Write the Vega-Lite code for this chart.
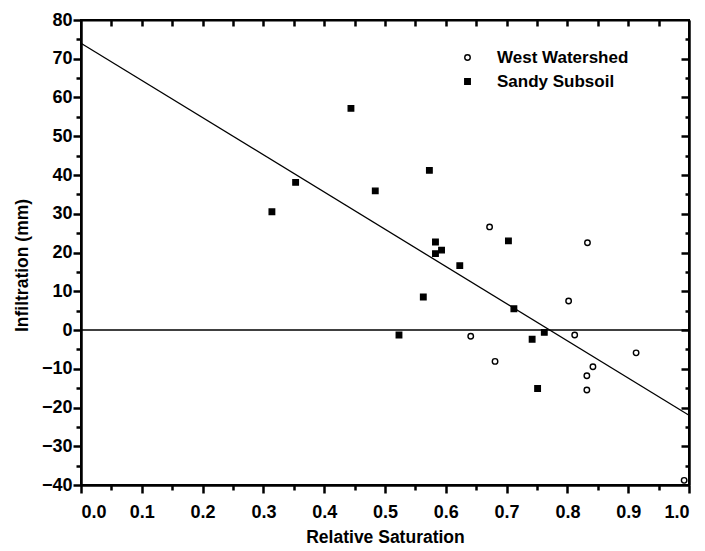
{
  "$schema": "https://vega.github.io/schema/vega-lite/v6.json",
  "autosize": {"type": "none"},
  "width": 608,
  "height": 465,
  "padding": {"left": 81, "top": 20, "right": 16, "bottom": 66},
  "background": "white",
  "config": {
    "view": {"stroke": "black", "strokeWidth": 2},
    "axis": {"grid": false, "labelFont": "Liberation Sans", "labelFontSize": 18}
  },
  "datasets": {
    "pts": [
      {"series": "Sandy Subsoil", "sat": 0.314, "inf": 30.5},
      {"series": "Sandy Subsoil", "sat": 0.353, "inf": 38.1},
      {"series": "Sandy Subsoil", "sat": 0.444, "inf": 57.2},
      {"series": "Sandy Subsoil", "sat": 0.484, "inf": 35.9},
      {"series": "Sandy Subsoil", "sat": 0.573, "inf": 41.2},
      {"series": "Sandy Subsoil", "sat": 0.583, "inf": 22.7},
      {"series": "Sandy Subsoil", "sat": 0.593, "inf": 20.6},
      {"series": "Sandy Subsoil", "sat": 0.583, "inf": 19.7},
      {"series": "Sandy Subsoil", "sat": 0.623, "inf": 16.6},
      {"series": "Sandy Subsoil", "sat": 0.563, "inf": 8.5},
      {"series": "Sandy Subsoil", "sat": 0.703, "inf": 23.0},
      {"series": "Sandy Subsoil", "sat": 0.712, "inf": 5.5},
      {"series": "Sandy Subsoil", "sat": 0.523, "inf": -1.3},
      {"series": "Sandy Subsoil", "sat": 0.742, "inf": -2.4},
      {"series": "Sandy Subsoil", "sat": 0.762, "inf": -0.6},
      {"series": "Sandy Subsoil", "sat": 0.751, "inf": -15.1},
      {"series": "West Watershed", "sat": 0.672, "inf": 26.6},
      {"series": "West Watershed", "sat": 0.641, "inf": -1.6},
      {"series": "West Watershed", "sat": 0.681, "inf": -8.1},
      {"series": "West Watershed", "sat": 0.802, "inf": 7.5},
      {"series": "West Watershed", "sat": 0.812, "inf": -1.3},
      {"series": "West Watershed", "sat": 0.833, "inf": 22.5},
      {"series": "West Watershed", "sat": 0.913, "inf": -5.9},
      {"series": "West Watershed", "sat": 0.842, "inf": -9.5},
      {"series": "West Watershed", "sat": 0.832, "inf": -11.8},
      {"series": "West Watershed", "sat": 0.832, "inf": -15.5},
      {"series": "West Watershed", "sat": 0.992, "inf": -38.8}
    ],
    "fit": [
      {"sat": 0, "inf": 74},
      {"sat": 1, "inf": -22}
    ]
  },
  "resolve": {"axis": {"x": "independent", "y": "independent"}},
  "layer": [
    {
      "data": {"name": "fit"},
      "mark": {"type": "line", "color": "black", "strokeWidth": 1.3},
      "encoding": {
        "x": {"field": "sat", "type": "quantitative", "scale": {"domain": [0, 1], "nice": false, "zero": false},
          "axis": {"orient": "bottom", "values": [0, 0.1, 0.2, 0.3, 0.4, 0.5, 0.6, 0.7, 0.8, 0.9, 1.0], "format": ".1f", "tickSize": 8, "tickWidth": 2.5, "tickColor": "black", "domainColor": "black", "domainWidth": 2, "labelColor": "black", "labelFontWeight": "bold", "labelPadding": 10, "title": "Relative Saturation", "titleFont": "Liberation Sans", "titleFontSize": 17.5, "titleFontWeight": "bold", "titleColor": "black", "titlePadding": 7}},
        "y": {"field": "inf", "type": "quantitative", "scale": {"domain": [-40, 80], "nice": false},
          "axis": {"orient": "left", "values": [-40, -30, -20, -10, 0, 10, 20, 30, 40, 50, 60, 70, 80], "tickSize": 8, "tickWidth": 2.5, "tickColor": "black", "domainColor": "black", "domainWidth": 2, "labelColor": "black", "labelFontWeight": "bold", "labelPadding": 1, "title": "Infiltration (mm)", "titleFont": "Liberation Sans", "titleFontSize": 17.5, "titleFontWeight": "bold", "titleColor": "black", "titlePadding": 10, "titleY": 245}}
      }
    },
    {
      "data": {"values": [{"a": 0, "b": 1, "z": 0}]},
      "mark": {"type": "rule", "color": "black", "strokeWidth": 1.5},
      "encoding": {
        "x": {"field": "a", "type": "quantitative",
          "axis": {"orient": "top", "values": [0.05, 0.1, 0.15, 0.2, 0.25, 0.3, 0.35, 0.4, 0.45, 0.5, 0.55, 0.6, 0.65, 0.7, 0.75, 0.8, 0.85, 0.9, 0.95], "labels": false, "tickSize": -6, "tickWidth": 2.5, "tickColor": "black", "domainColor": "black", "domainWidth": 2, "title": null}},
        "x2": {"field": "b"},
        "y": {"field": "z", "type": "quantitative",
          "axis": {"orient": "right", "values": [-30, -20, -10, 0, 10, 20, 30, 40, 50, 60, 70], "labels": false, "tickSize": -8, "tickWidth": 2.5, "tickColor": "black", "domainColor": "black", "domainWidth": 2, "title": null}}
      }
    },
    {
      "data": {"values": [{"a": 0.5, "z": 0}]},
      "mark": {"type": "point", "opacity": 0},
      "encoding": {
        "x": {"field": "a", "type": "quantitative",
          "axis": {"orient": "bottom", "values": [0.05, 0.15, 0.25, 0.35, 0.45, 0.55, 0.65, 0.75, 0.85, 0.95], "labels": false, "tickSize": 5, "tickWidth": 2.5, "tickColor": "black", "domainColor": "black", "domainWidth": 2, "title": null}},
        "y": {"field": "z", "type": "quantitative",
          "axis": {"orient": "right", "values": [-35, -25, -15, -5, 5, 15, 25, 35, 45, 55, 65, 75], "labels": false, "tickSize": -4, "tickWidth": 2.5, "tickColor": "black", "domainColor": "black", "domainWidth": 2, "title": null}}
      }
    },
    {
      "data": {"values": [{"a": 0.5, "z": 0}]},
      "mark": {"type": "point", "opacity": 0},
      "encoding": {
        "x": {"field": "a", "type": "quantitative", "axis": null},
        "y": {"field": "z", "type": "quantitative",
          "axis": {"orient": "left", "values": [-35, -25, -15, -5, 5, 15, 25, 35, 45, 55, 65, 75], "labels": false, "tickSize": 5, "tickWidth": 2.5, "tickColor": "black", "domainColor": "black", "domainWidth": 2, "title": null}}
      }
    },
    {
      "data": {"name": "pts"},
      "mark": {"type": "point", "strokeWidth": 1.4, "size": 30, "opacity": 1},
      "encoding": {
        "x": {"field": "sat", "type": "quantitative", "axis": null},
        "y": {"field": "inf", "type": "quantitative", "axis": null},
        "shape": {"field": "series", "type": "nominal", "title": null,
          "scale": {"domain": ["West Watershed", "Sandy Subsoil"], "range": ["circle", "square"]},
          "legend": {"orient": "none", "legendX": 378, "legendY": 29, "labelFont": "Liberation Sans", "labelFontWeight": "bold", "labelFontSize": 17, "labelColor": "black", "symbolStrokeWidth": 1.4, "symbolSize": 30, "symbolOpacity": 1, "rowPadding": 6, "labelOffset": 21}},
        "fill": {"field": "series", "type": "nominal", "title": null,
          "scale": {"domain": ["West Watershed", "Sandy Subsoil"], "range": ["white", "black"]}},
        "stroke": {"field": "series", "type": "nominal", "title": null,
          "scale": {"domain": ["West Watershed", "Sandy Subsoil"], "range": ["black", "black"]}}
      }
    }
  ]
}
